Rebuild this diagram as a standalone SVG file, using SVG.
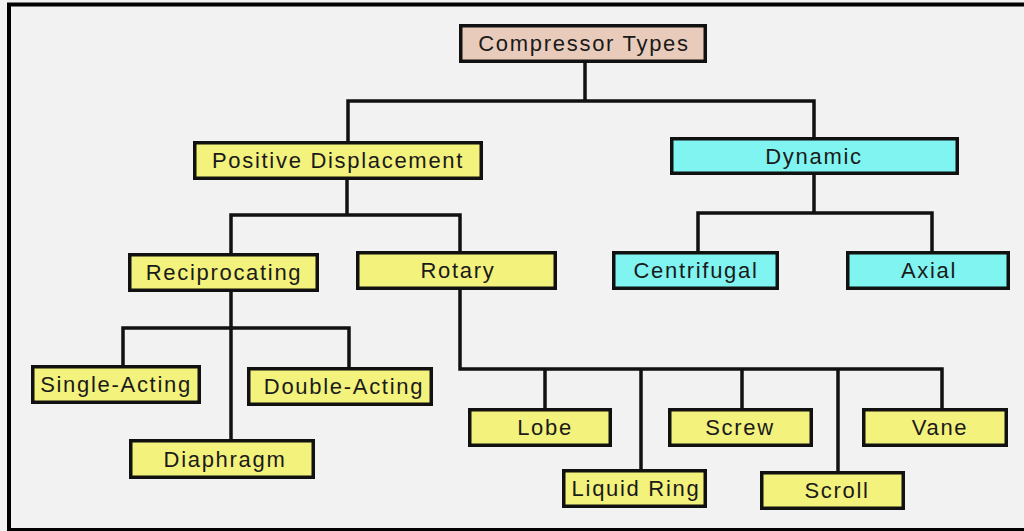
<svg xmlns="http://www.w3.org/2000/svg" width="1024" height="531" viewBox="0 0 1024 531">
<style>
.bx{stroke:#111;stroke-width:3.5}
.y{fill:#F3F27C}
.c{fill:#80F4F0}
.p{fill:#E9CBBB}
.t{font-family:"Liberation Sans",Arial,sans-serif;font-size:22px;letter-spacing:1.7px;fill:#1a1a1a;text-anchor:middle}
.ln{fill:none;stroke:#111;stroke-width:3.5;stroke-linejoin:miter}
</style>
<rect width="1024" height="531" fill="#F2F2F2"/>
<path d="M1024 4.5 H9 V530 H1024" fill="none" stroke="#000" stroke-width="4"/>
<g id="connectors" class="ln">
<path d="M585 63 V101"/>
<path d="M348 141 V101 H814 V137"/>
<path d="M347 180 V215"/>
<path d="M231 253 V215 H460 V251"/>
<path d="M814 175 V213"/>
<path d="M698 251 V213 H932 V251"/>
<path d="M231 292 V439"/>
<path d="M123 365 V328 H349 V367"/>
<path d="M460 290 V369 H942 V408"/>
<path d="M545 369 V408"/>
<path d="M641 369 V469"/>
<path d="M742 369 V408"/>
<path d="M838 369 V471"/>
</g>
<g id="compressor-types"><rect class="bx p" x="460.75" y="25.75" width="244.5" height="35.5"/><text class="t" x="584" y="51">Compressor Types</text></g>
<g id="positive-displacement"><rect class="bx y" x="194.75" y="142.75" width="286.5" height="35.5"/><text class="t" x="338" y="168">Positive Displacement</text></g>
<g id="dynamic"><rect class="bx c" x="671.75" y="138.75" width="285.5" height="34.5"/><text class="t" x="814" y="164">Dynamic</text></g>
<g id="reciprocating"><rect class="bx y" x="129.75" y="254.75" width="187.5" height="35.5"/><text class="t" x="224" y="280">Reciprocating</text></g>
<g id="rotary"><rect class="bx y" x="357.75" y="252.75" width="197.5" height="35.5"/><text class="t" x="458" y="278">Rotary</text></g>
<g id="centrifugal"><rect class="bx c" x="613.75" y="252.75" width="163.5" height="35.5"/><text class="t" x="696" y="278">Centrifugal</text></g>
<g id="axial"><rect class="bx c" x="847.75" y="252.75" width="160.5" height="35.5"/><text class="t" x="929" y="278">Axial</text></g>
<g id="single-acting"><rect class="bx y" x="32.75" y="366.75" width="166.5" height="35.5"/><text class="t" x="116" y="392">Single-Acting</text></g>
<g id="double-acting"><rect class="bx y" x="248.75" y="368.75" width="182.5" height="35.5"/><text class="t" x="344" y="394">Double-Acting</text></g>
<g id="diaphragm"><rect class="bx y" x="130.75" y="440.75" width="182.5" height="36.5"/><text class="t" x="225" y="467">Diaphragm</text></g>
<g id="lobe"><rect class="bx y" x="469.75" y="409.75" width="140.5" height="35.5"/><text class="t" x="545" y="435">Lobe</text></g>
<g id="liquid-ring"><rect class="bx y" x="563.75" y="470.75" width="141.5" height="35.5"/><text class="t" x="636" y="496">Liquid Ring</text></g>
<g id="screw"><rect class="bx y" x="669.75" y="409.75" width="141.5" height="35.5"/><text class="t" x="740" y="435">Screw</text></g>
<g id="scroll"><rect class="bx y" x="761.75" y="472.75" width="141.5" height="35.5"/><text class="t" x="837" y="498">Scroll</text></g>
<g id="vane"><rect class="bx y" x="863.75" y="409.75" width="142.5" height="35.5"/><text class="t" x="940" y="435">Vane</text></g>
</svg>
